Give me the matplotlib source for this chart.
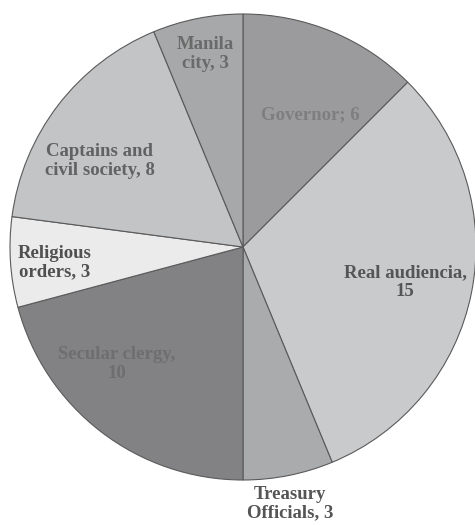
import matplotlib.pyplot as plt

# data
labels = ['Governor; 6', 'Real audiencia,\n15', 'Treasury\nOfficials, 3', 'Secular clergy,\n10',
          'Religious\norders, 3', 'Captains and\ncivil society, 8', 'Manila\ncity, 3']
values = [6, 15, 3, 10, 3, 8, 3]

# styling
colors = ['#9b9b9d', '#c9cacc', '#aaabad', '#828284', '#ebebeb', '#c3c4c6', '#a7a8aa']
text_colors = ['#7e7e80', '#555555', '#555555', '#6e6e70', '#505050', '#626262', '#6a6a6a']
# label centres in pixel coordinates (from top-left)
label_pos = [(310, 115), (405, 282), (290, 504), (117, 364), (55, 263), (100, 161), (205, 54)]

W, H = 475, 525
fig = plt.figure(figsize=(W / 100, H / 100), dpi=100)
ax = fig.add_axes([0, 0, 1, 1])

wedges, _ = ax.pie(values, colors=colors, startangle=90, counterclock=False,
                   radius=233, center=(243, H - 247), frame=False,
                   wedgeprops=dict(edgecolor='#5a5a5a', linewidth=0.8))

for lab, (x, y), c in zip(labels, label_pos, text_colors):
    ax.text(x, H - y, lab, ha='center', va='center', color=c,
            fontsize=13.5, fontweight='bold', family='Liberation Serif',
            linespacing=1.1)

ax.set_xlim(0, W)
ax.set_ylim(0, H)
ax.axis('off')
fig.savefig('out.png', dpi=100, facecolor='white')
